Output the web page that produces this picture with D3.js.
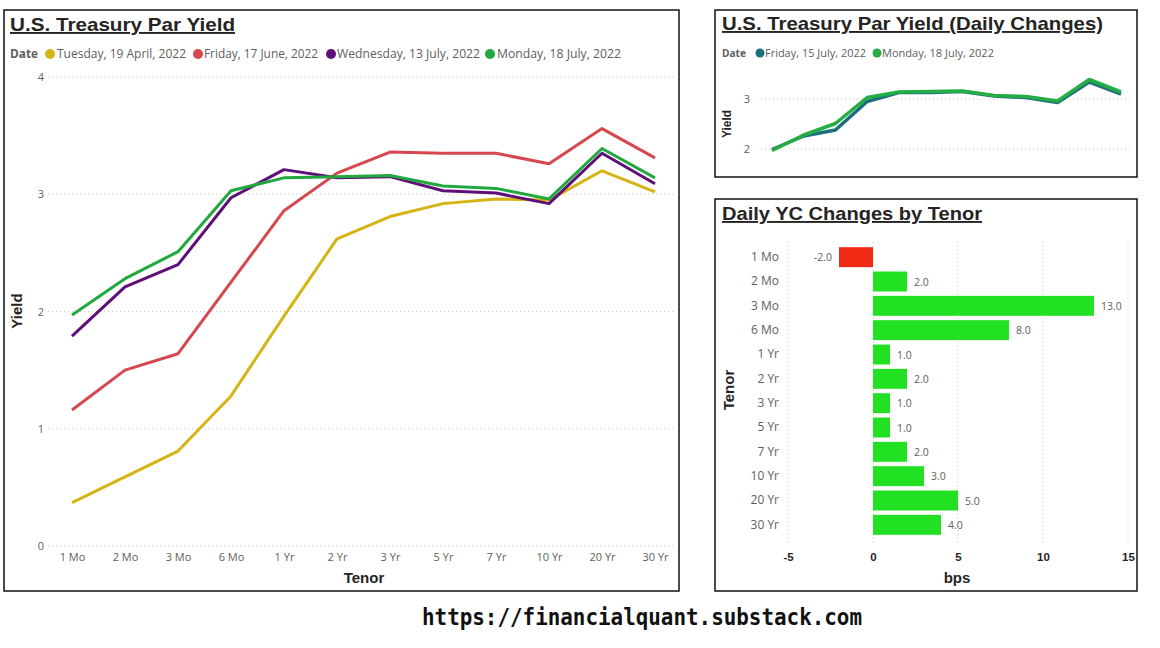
<!DOCTYPE html>
<html>
<head>
<meta charset="utf-8">
<script src="https://cdn.jsdelivr.net/npm/d3@7"></script>
<style>
  body { margin: 0; background: #fff; }
  svg { display: block; }
  .tick-lbl { font-family: 'Open Sans', sans-serif; font-size: 11px; fill: #605e5c; }
  .axis-title { font-family: 'Liberation Sans', Arial, sans-serif; font-weight: bold; font-size: 15px; fill: #252423; }
  .panel-title { font-family: 'Liberation Sans', Arial, sans-serif; font-weight: bold; font-size: 19px; fill: #252423; text-decoration: underline; }
</style>
</head>
<body>
<div id="chart"></div>
<script>
const tenors = ['1 Mo', '2 Mo', '3 Mo', '6 Mo', '1 Yr', '2 Yr', '3 Yr', '5 Yr', '7 Yr', '10 Yr', '20 Yr', '30 Yr'];

const dates = ['Tuesday, 19 April, 2022', 'Friday, 17 June, 2022', 'Wednesday, 13 July, 2022', 'Monday, 18 July, 2022'];
const yieldApr19 = [0.37, 0.59, 0.81, 1.28, 1.96, 2.62, 2.81, 2.92, 2.96, 2.95, 3.20, 3.02];
const yieldJun17 = [1.16, 1.50, 1.64, 2.25, 2.86, 3.18, 3.36, 3.35, 3.35, 3.26, 3.56, 3.31];
const yieldJul13 = [1.79, 2.21, 2.40, 2.97, 3.21, 3.14, 3.15, 3.03, 3.01, 2.92, 3.35, 3.09];
const yieldJul18 = [1.97, 2.28, 2.51, 3.03, 3.14, 3.15, 3.16, 3.07, 3.05, 2.96, 3.39, 3.14];

const dailyDates = ['Friday, 15 July, 2022', 'Monday, 18 July, 2022'];
const yieldJul15 = [1.99, 2.26, 2.38, 2.95, 3.13, 3.13, 3.15, 3.06, 3.03, 2.93, 3.34, 3.10];

const changesBps = [-2, 2, 13, 8, 1, 2, 1, 1, 2, 3, 5, 4];

const mainTicks = [0, 1, 2, 3, 4];
const dailyTicks = [2, 3];
const bpsTicks = [-5, 0, 5, 10, 15];

const render = () => {
  const width = 1160;
  const height = 648;

  const svg = d3.select('#chart').append('svg')
    .attr('width', width)
    .attr('height', height);

  const gridColor = '#c8c6c4';
  // plain hyphen for negatives, like the source
  const fmt1 = (v) => d3.format('.1f')(v).replace('\u2212', '-');
  const fmtInt = (v) => d3.format('d')(v).replace('\u2212', '-');

  // Panels
  const panels = [
    { x: 4, y: 10, w: 675, h: 581 },
    { x: 715, y: 10, w: 422, h: 167 },
    { x: 715, y: 199, w: 422, h: 392 }
  ];
  svg.selectAll('.panel').data(panels).enter().append('rect')
    .attr('class', 'panel')
    .attr('x', (d) => d.x).attr('y', (d) => d.y)
    .attr('width', (d) => d.w).attr('height', (d) => d.h)
    .attr('fill', 'none').attr('stroke', '#111').attr('stroke-width', 1.5);

  // ---------- Main chart ----------
  const mainColors = ['#d6b414', '#d6474f', '#5e0f78', '#22a83f'];
  const mainSeries = [yieldApr19, yieldJun17, yieldJul13, yieldJul18];

  svg.append('text').attr('class', 'panel-title')
    .attr('x', 10).attr('y', 31)
    .attr('textLength', 225).attr('lengthAdjust', 'spacingAndGlyphs')
    .text('U.S. Treasury Par Yield');

  // Legend
  const legendMain = svg.append('g');
  legendMain.append('text')
    .attr('x', 10).attr('y', 58)
    .style('font-family', "'Open Sans', sans-serif").style('font-size', '12px')
    .style('font-weight', 'bold').style('fill', '#605e5c')
    .attr('textLength', 28).attr('lengthAdjust', 'spacingAndGlyphs')
    .text('Date');
  const legendPos = [
    { cx: 50, tx: 57, tw: 129 },
    { cx: 198, tx: 204, tw: 114 },
    { cx: 331, tx: 337, tw: 143 },
    { cx: 490, tx: 497, tw: 124 }
  ];
  dates.forEach((d, i) => {
    const p = legendPos[i];
    legendMain.append('circle').attr('cx', p.cx).attr('cy', 54).attr('r', 5).attr('fill', mainColors[i]);
    legendMain.append('text')
      .attr('x', p.tx).attr('y', 58)
      .style('font-family', "'Open Sans', sans-serif").style('font-size', '12px').style('fill', '#605e5c')
      .attr('textLength', p.tw).attr('lengthAdjust', 'spacingAndGlyphs')
      .text(d);
  });

  const xMain = d3.scalePoint().domain(tenors).range([72, 655]);
  const yMain = d3.scaleLinear().domain([0, 4]).range([546, 77]);

  svg.append('g').selectAll('line').data(mainTicks).enter().append('line')
    .attr('x1', 48).attr('x2', 675)
    .attr('y1', (d) => yMain(d)).attr('y2', (d) => yMain(d))
    .attr('stroke', gridColor).attr('stroke-dasharray', '1,3');

  const yAxisMain = svg.append('g')
    .attr('transform', 'translate(44,0)')
    .call(d3.axisLeft(yMain).tickValues(mainTicks).tickSize(0).tickPadding(0).tickFormat(fmtInt));
  yAxisMain.select('.domain').remove();
  yAxisMain.selectAll('text').attr('class', 'tick-lbl').attr('fill', null);

  const xAxisMain = svg.append('g')
    .attr('transform', 'translate(0,551)')
    .call(d3.axisBottom(xMain).tickSize(0).tickPadding(0));
  xAxisMain.select('.domain').remove();
  xAxisMain.selectAll('text').attr('class', 'tick-lbl').attr('fill', null).attr('dy', '0.9em');

  svg.append('text').attr('class', 'axis-title')
    .attr('x', 364).attr('y', 583).attr('text-anchor', 'middle').text('Tenor');
  svg.append('text').attr('class', 'axis-title')
    .attr('transform', 'translate(22,311) rotate(-90)').attr('text-anchor', 'middle').text('Yield');

  const lineMain = d3.line().x((d, i) => xMain(tenors[i])).y((d) => yMain(d));
  svg.append('g').selectAll('path').data(mainSeries).enter().append('path')
    .attr('d', lineMain)
    .attr('fill', 'none')
    .attr('stroke', (d, i) => mainColors[i])
    .attr('stroke-width', 3)
    .attr('stroke-linejoin', 'round');

  // ---------- Daily changes line chart ----------
  const dailyColors = ['#1d6f7d', '#24ad44'];
  const dailySeries = [yieldJul15, yieldJul18];

  svg.append('text').attr('class', 'panel-title')
    .attr('x', 722).attr('y', 30)
    .attr('textLength', 381).attr('lengthAdjust', 'spacingAndGlyphs')
    .text('U.S. Treasury Par Yield (Daily Changes)');

  svg.append('text')
    .attr('x', 722).attr('y', 57)
    .style('font-family', "'Open Sans', sans-serif").style('font-size', '11px')
    .style('font-weight', 'bold').style('fill', '#605e5c')
    .attr('textLength', 24).attr('lengthAdjust', 'spacingAndGlyphs')
    .text('Date');
  const dailyLegendPos = [
    { cx: 760, tx: 765, tw: 101 },
    { cx: 877, tx: 882, tw: 112 }
  ];
  dailyDates.forEach((d, i) => {
    const p = dailyLegendPos[i];
    svg.append('circle').attr('cx', p.cx).attr('cy', 53).attr('r', 4.5).attr('fill', dailyColors[i]);
    svg.append('text')
      .attr('x', p.tx).attr('y', 57)
      .style('font-family', "'Open Sans', sans-serif").style('font-size', '11px').style('fill', '#605e5c')
      .attr('textLength', p.tw).attr('lengthAdjust', 'spacingAndGlyphs')
      .text(d);
  });

  const xDaily = d3.scalePoint().domain(tenors).range([772, 1121]);
  const yDaily = d3.scaleLinear().domain([2, 3]).range([149, 99]);

  svg.append('g').selectAll('line').data(dailyTicks).enter().append('line')
    .attr('x1', 757).attr('x2', 1133)
    .attr('y1', (d) => yDaily(d)).attr('y2', (d) => yDaily(d))
    .attr('stroke', gridColor).attr('stroke-dasharray', '1,3');

  const yAxisDaily = svg.append('g')
    .attr('transform', 'translate(750,0)')
    .call(d3.axisLeft(yDaily).tickValues(dailyTicks).tickSize(0).tickPadding(0).tickFormat(fmtInt));
  yAxisDaily.select('.domain').remove();
  yAxisDaily.selectAll('text').attr('class', 'tick-lbl').attr('fill', null);

  svg.append('text').attr('class', 'axis-title').style('font-size', '12px')
    .attr('transform', 'translate(731,124) rotate(-90)').attr('text-anchor', 'middle').text('Yield');

  const lineDaily = d3.line().x((d, i) => xDaily(tenors[i])).y((d) => yDaily(d));
  svg.append('g').selectAll('path').data(dailySeries).enter().append('path')
    .attr('d', lineDaily)
    .attr('fill', 'none')
    .attr('stroke', (d, i) => dailyColors[i])
    .attr('stroke-width', 3.5)
    .attr('stroke-linejoin', 'round');

  // ---------- Daily YC changes bar chart ----------
  svg.append('text').attr('class', 'panel-title')
    .attr('x', 722).attr('y', 220)
    .attr('textLength', 260).attr('lengthAdjust', 'spacingAndGlyphs')
    .text('Daily YC Changes by Tenor');

  const xBar = d3.scaleLinear().domain([-5, 15]).range([788, 1128]);
  const yBar = d3.scaleBand().domain(tenors).range([245, 537]).paddingInner(0.18).paddingOuter(0.09);

  svg.append('g').selectAll('line').data(bpsTicks).enter().append('line')
    .attr('x1', (d) => xBar(d)).attr('x2', (d) => xBar(d))
    .attr('y1', 242).attr('y2', 545)
    .attr('stroke', gridColor).attr('stroke-dasharray', '1,3');

  const xAxisBar = svg.append('g')
    .attr('transform', 'translate(0,552)')
    .call(d3.axisBottom(xBar).tickValues(bpsTicks).tickSize(0).tickPadding(0).tickFormat(fmtInt));
  xAxisBar.select('.domain').remove();
  xAxisBar.selectAll('text')
    .attr('fill', '#252423').attr('dy', '0.75em')
    .style('font-family', "'Liberation Sans', Arial, sans-serif").style('font-size', '11.5px').style('font-weight', 'bold');

  const yAxisBar = svg.append('g')
    .attr('transform', 'translate(779,0)')
    .call(d3.axisLeft(yBar).tickSize(0).tickPadding(0));
  yAxisBar.select('.domain').remove();
  yAxisBar.selectAll('text').attr('class', 'tick-lbl').attr('fill', null).style('font-size', '12px');

  svg.append('text').attr('class', 'axis-title')
    .attr('x', 957).attr('y', 583).attr('text-anchor', 'middle').text('bps');
  svg.append('text').attr('class', 'axis-title')
    .attr('transform', 'translate(734,390) rotate(-90)').attr('text-anchor', 'middle').text('Tenor');

  svg.append('g').selectAll('rect').data(changesBps).enter().append('rect')
    .attr('x', (d) => xBar(Math.min(0, d)))
    .attr('y', (d, i) => yBar(tenors[i]))
    .attr('width', (d) => Math.abs(xBar(d) - xBar(0)))
    .attr('height', yBar.bandwidth())
    .attr('fill', (d) => (d < 0 ? '#f02a14' : '#22e022'));

  svg.append('g').selectAll('text').data(changesBps).enter().append('text')
    .attr('class', 'tick-lbl')
    .style('font-size', '10.5px')
    .attr('x', (d) => (d < 0 ? xBar(d) - 7 : xBar(d) + 7))
    .attr('y', (d, i) => yBar(tenors[i]) + yBar.bandwidth() / 2 + 4)
    .attr('text-anchor', (d) => (d < 0 ? 'end' : 'start'))
    .text((d) => fmt1(d));

  // Footer
  svg.append('text')
    .attr('x', 642).attr('y', 625).attr('text-anchor', 'middle')
    .style('font-family', "'Comic Sans MS', 'DejaVu Sans Mono', monospace")
    .style('font-size', '23px').style('font-weight', 'bold').style('fill', '#111')
    .attr('textLength', 440).attr('lengthAdjust', 'spacingAndGlyphs')
    .text('https://financialquant.substack.com');
};

render();
</script>
</body>
</html>
